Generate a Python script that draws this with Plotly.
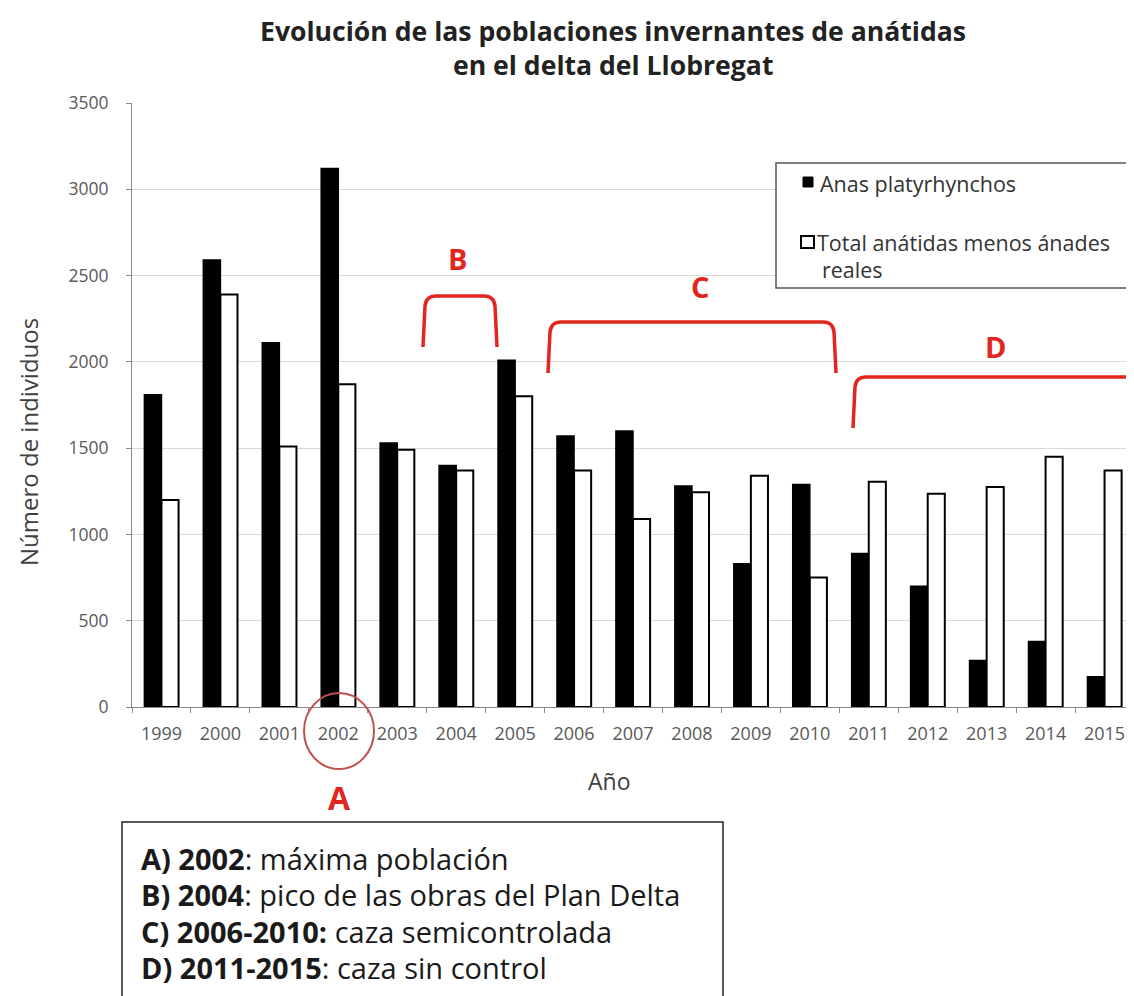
import plotly.graph_objects as go

# ---- data ----
years = ["1999", "2000", "2001", "2002", "2003", "2004", "2005", "2006", "2007",
         "2008", "2009", "2010", "2011", "2012", "2013", "2014", "2015"]
anas_platyrhynchos = [1810, 2590, 2110, 3120, 1530, 1400, 2010, 1570, 1600,
                      1280, 830, 1290, 890, 700, 270, 380, 175]
total_menos_anades = [1200, 2390, 1510, 1870, 1490, 1370, 1800, 1370, 1090,
                      1245, 1340, 750, 1305, 1235, 1275, 1450, 1370]
y_ticks = [0, 500, 1000, 1500, 2000, 2500, 3000, 3500]

title_lines = ["Evolución de las poblaciones invernantes de anátidas",
               "en el delta del Llobregat"]
legend_names = ["Anas platyrhynchos", "Total anátidas menos ánades<br>reales"]
notes = [("A) 2002", ": máxima población"),
         ("B) 2004", ": pico de las obras del Plan Delta"),
         ("C) 2006-2010:", " caza semicontrolada"),
         ("D) 2011-2015", ": caza sin control")]

# ---- layout geometry (page has an 8px body margin) ----
OFF = 8
W, H = 1126, 988
L, R, T, B = 124, 0, 95, 289
PW, PH = W - L - R, H - T - B
FONT = "Open Sans"
RED = "#e0261e"
GREY = "#595959"


def px(x):
    """page pixel x -> paper x"""
    return (x - OFF - L) / PW


def py(y):
    """page pixel y -> paper y"""
    return (H - B - (y - OFF)) / PH


fig = go.Figure()
fig.add_trace(go.Bar(x=years, y=anas_platyrhynchos, name="Anas platyrhynchos",
                     marker=dict(color="black", line=dict(color="black", width=1.5)),
                     showlegend=False))
fig.add_trace(go.Bar(x=years, y=total_menos_anades, name="Total anátidas menos ánades reales",
                     marker=dict(color="white", line=dict(color="black", width=2)),
                     showlegend=False))

shapes = []
annotations = []

# title
for i, line in enumerate(title_lines):
    annotations.append(dict(text="<b>%s</b>" % line, x=px(613), y=py(31 + 34 * i),
                            xref="paper", yref="paper", showarrow=False,
                            xanchor="center", yanchor="middle",
                            font=dict(family=FONT, size=26.6, color="#222")))

# axis titles
annotations.append(dict(text="Número de individuos", x=px(28), y=py(442), xref="paper",
                        yref="paper", showarrow=False, textangle=-90,
                        xanchor="center", yanchor="middle",
                        font=dict(family=FONT, size=24, color="#404040")))
annotations.append(dict(text="Año", x=px(609), y=py(781), xref="paper", yref="paper",
                        showarrow=False, xanchor="center", yanchor="middle",
                        font=dict(family=FONT, size=23, color="#404040")))

# manual legend
shapes.append(dict(type="rect", xref="paper", yref="paper", x0=px(776), x1=px(1130),
                   y0=py(288), y1=py(163), line=dict(color="#555", width=1.5),
                   fillcolor="white", layer="above"))
shapes.append(dict(type="rect", xref="paper", yref="paper", x0=px(803), x1=px(813),
                   y0=py(187), y1=py(177), line=dict(color="black", width=1),
                   fillcolor="black", layer="above"))
shapes.append(dict(type="rect", xref="paper", yref="paper", x0=px(801), x1=px(814),
                   y0=py(248), y1=py(236), line=dict(color="black", width=2),
                   fillcolor="white", layer="above"))
annotations.append(dict(text=legend_names[0], x=px(818), y=py(184), xref="paper",
                        yref="paper", showarrow=False, xanchor="left", yanchor="middle",
                        font=dict(family=FONT, size=21.5, color="#333")))
first, second = legend_names[1].split("<br>")
annotations.append(dict(text=first, x=px(815), y=py(243), xref="paper",
                        yref="paper", showarrow=False, xanchor="left", yanchor="middle",
                        font=dict(family=FONT, size=21.5, color="#333")))
annotations.append(dict(text=second, x=px(820), y=py(269), xref="paper",
                        yref="paper", showarrow=False, xanchor="left", yanchor="middle",
                        font=dict(family=FONT, size=21.5, color="#333")))


# red brackets
def bracket(xl, xr, ytop, ybl, ybr, r=10):
    def P(x, y):
        return "%f,%f" % (px(x), py(y))
    return ("M " + P(xl, ybl) + " L " + P(xl + 2, ytop + r) + " Q " + P(xl + 3, ytop) + " "
            + P(xl + r + 3, ytop) + " L " + P(xr - r - 3, ytop) + " Q " + P(xr - 3, ytop)
            + " " + P(xr - 2, ytop + r) + " L " + P(xr, ybr))


for path in [bracket(423, 497, 296, 347, 347),
             bracket(548, 836, 322, 373, 373),
             bracket(853, 1170, 377, 428, 428)]:
    shapes.append(dict(type="path", xref="paper", yref="paper", path=path,
                       line=dict(color=RED, width=3.5), layer="above"))

for letter, x, y in [("B", 457, 258), ("C", 700, 286), ("D", 995, 346)]:
    annotations.append(dict(text="<b>%s</b>" % letter, x=px(x), y=py(y), xref="paper",
                            yref="paper", showarrow=False, xanchor="center",
                            yanchor="middle", font=dict(family=FONT, size=29, color=RED)))

# circle A
shapes.append(dict(type="circle", xref="paper", yref="paper", x0=px(304), x1=px(374),
                   y0=py(769), y1=py(693), line=dict(color="#c0504d", width=2),
                   layer="above"))
annotations.append(dict(text="<b>A</b>", x=px(339), y=py(797), xref="paper", yref="paper",
                        showarrow=False, xanchor="center", yanchor="middle",
                        font=dict(family=FONT, size=32, color=RED)))

# notes box
shapes.append(dict(type="rect", xref="paper", yref="paper", x0=px(122), x1=px(723),
                   y0=py(1010), y1=py(822), line=dict(color="#222", width=1.5),
                   fillcolor="rgba(0,0,0,0)", layer="above"))
for i, (bold, rest) in enumerate(notes):
    annotations.append(dict(text="<b>%s</b>%s" % (bold, rest), x=px(139),
                            y=py(858 + 36.5 * i), xref="paper", yref="paper",
                            showarrow=False, xanchor="left", yanchor="middle",
                            font=dict(family=FONT, size=29, color="#1a1a1a")))

fig.update_layout(
    width=W, height=H,
    margin=dict(l=L, r=R, t=T, b=B, pad=0),
    paper_bgcolor="white", plot_bgcolor="white",
    barmode="group", bargap=0.42, bargroupgap=0,
    showlegend=False,
    shapes=shapes, annotations=annotations,
    xaxis=dict(type="category", range=[-0.5, 16.5], showline=True, linecolor="#888",
               linewidth=1, ticks="outside", tickson="boundaries", ticklen=5,
               tickcolor="#888", showgrid=False, ticklabelstandoff=10,
               tickfont=dict(family=FONT, size=18, color=GREY)),
    yaxis=dict(range=[0, 3500], tickvals=y_ticks, showline=True, linecolor="#888",
               linewidth=1, ticks="outside", ticklen=5, tickcolor="#888",
               showgrid=True, gridcolor="#d9d9d9", gridwidth=1, zeroline=False,
               ticklabelstandoff=14,
               tickfont=dict(family=FONT, size=17.5, color=GREY)),
)

fig.write_html("out.html")
